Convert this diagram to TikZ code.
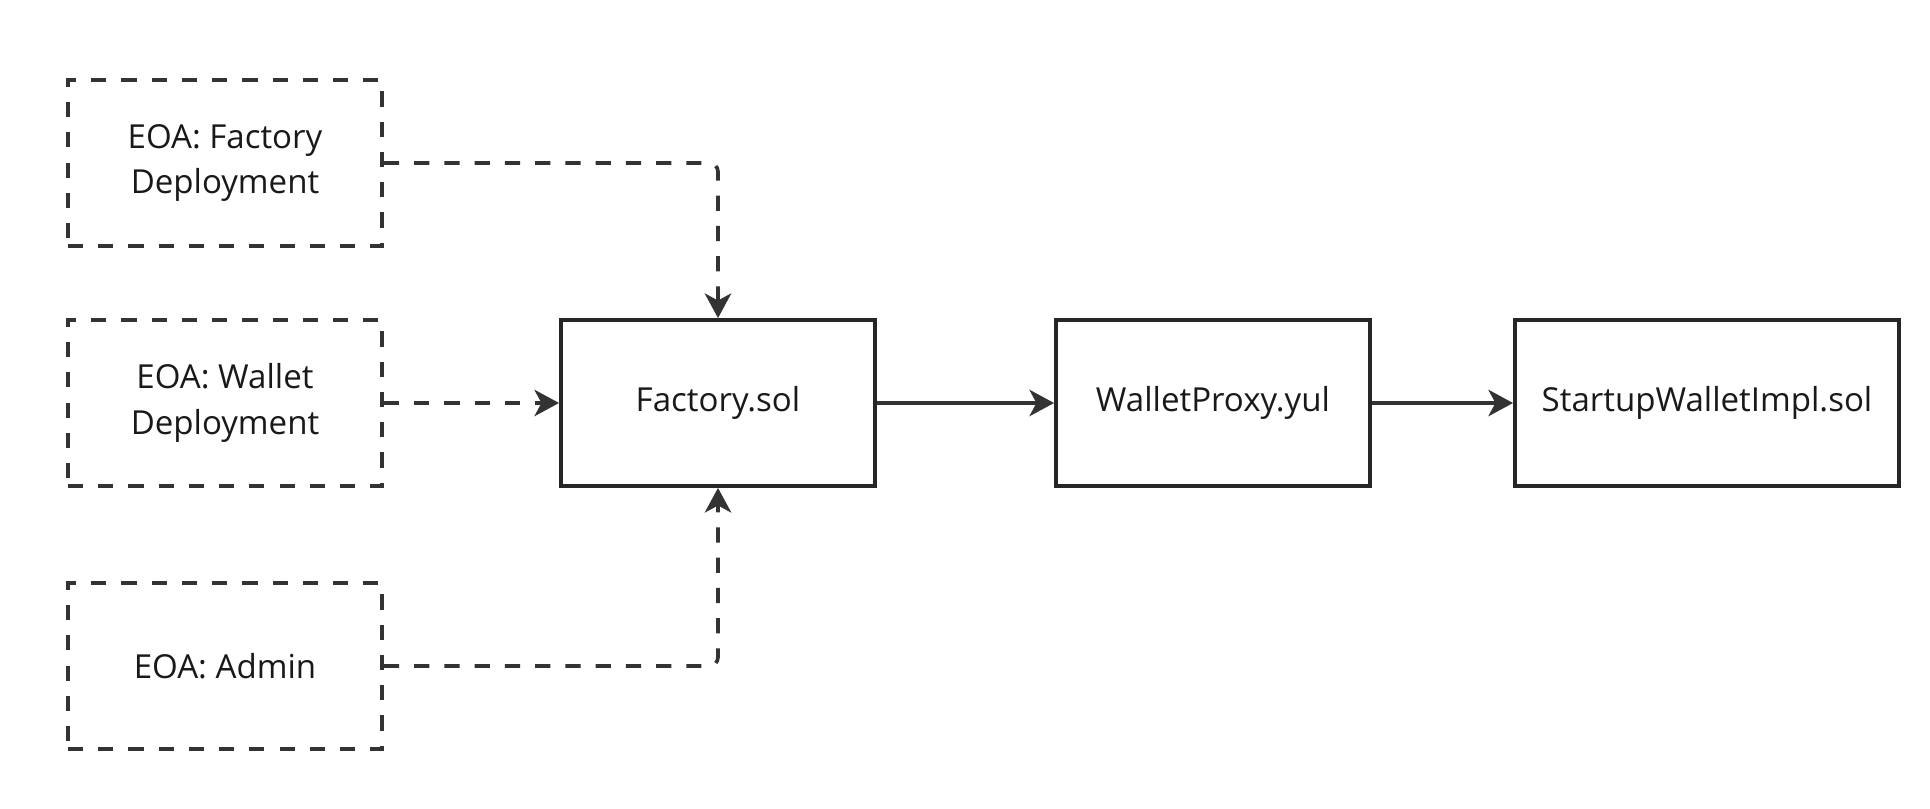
\documentclass[tikz,border=0pt]{standalone}
\usepackage{fontspec}
\setmainfont{Open Sans}
\usetikzlibrary{positioning,arrows.meta}

\definecolor{inkgray}{HTML}{333333}

\begin{document}
\begin{tikzpicture}[x=0.01cm,y=-0.01cm,
  font=\fontsize{9.4}{12.9}\selectfont,
  eoa/.style={draw=inkgray,line width=1.05pt,dash pattern=on 4.3pt off 4.3pt,
    minimum width=3.14cm,minimum height=1.66cm,align=center,text=black!90},
  contract/.style={draw=black!85,line width=1.05pt,
    minimum width=3.14cm,minimum height=1.66cm,align=center,text=black!90},
  calls/.style={draw=inkgray,line width=1.05pt,dash pattern=on 4.3pt off 4.3pt,
    rounded corners=2.5pt,-{Stealth[length=7pt,width=7.5pt,inset=2pt]}},
  links/.style={draw=inkgray,line width=1.05pt,-{Stealth[length=7pt,width=7.5pt,inset=2pt]}}]
  \useasboundingbox (0,0) rectangle (1930,809);
  % accounts
  \node[eoa] (eoafactory) at (225,163) {EOA: Factory\\Deployment};
  \node[eoa] (eoawallet) at (225,403) {EOA: Wallet\\Deployment};
  \node[eoa] (eoaadmin) at (225,666) {EOA: Admin};
  % contracts
  \node[contract] (factory) at (718,403) {Factory.sol};
  \node[contract] (proxy) at (1213,403) {WalletProxy.yul};
  \node[contract,minimum width=3.84cm] (impl) at (1707,403) {StartupWalletImpl.sol};
  % connectors
  \draw[calls] (eoafactory.east) -| (factory.north);
  \draw[calls] (eoawallet.east) -- (factory.west);
  \draw[calls] (eoaadmin.east) -| (factory.south);
  \draw[links] (factory.east) -- (proxy.west);
  \draw[links] (proxy.east) -- (impl.west);
\end{tikzpicture}
\end{document}
